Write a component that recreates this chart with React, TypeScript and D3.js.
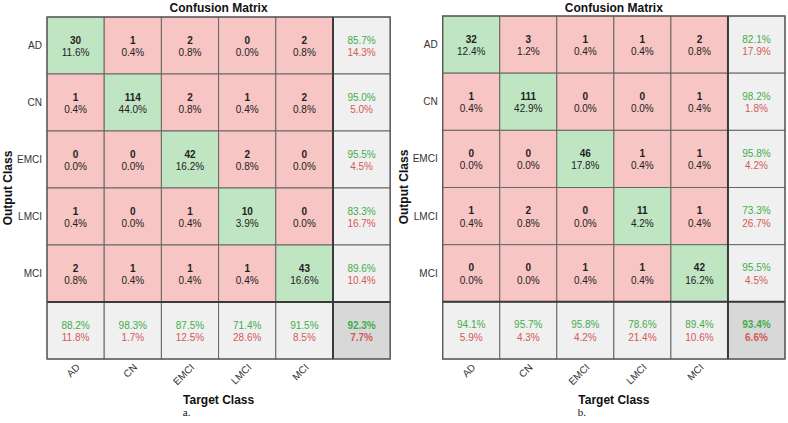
import React from "react";
import * as d3 from "d3";

const classes = ["AD", "CN", "EMCI", "LMCI", "MCI"];
const matrixA = [
  [30, 1, 2, 0, 2],
  [1, 114, 2, 1, 2],
  [0, 0, 42, 2, 0],
  [1, 0, 1, 10, 0],
  [2, 1, 1, 1, 43],
];
const matrixB = [
  [32, 3, 1, 1, 2],
  [1, 111, 0, 0, 1],
  [0, 0, 46, 1, 1],
  [1, 2, 0, 11, 1],
  [0, 0, 1, 1, 42],
];
const panelTags = ["a.", "b."];

const SANS = "'Liberation Sans', Arial, Helvetica, sans-serif";
const SERIF = "'Liberation Serif', 'Times New Roman', serif";
const GREEN_CELL = "#bfe5c3";
const RED_CELL = "#f7c5c3";
const GRAY_CELL = "#f0f0f0";
const CORNER_CELL = "#d8d8d8";
const GREEN_TEXT = "#3fae4a";
const RED_TEXT = "#d45a55";
const TEXT = "#222";

const fmt = (v: number) => (Math.round(v * 1000) / 10).toFixed(1) + "%";

function Panel({ m, x0, y0, w, h, tag }: { m: number[][]; x0: number; y0: number; w: number; h: number; tag: string }) {
  const n = classes.length;
  const xs = d3.scaleBand<number>().domain(d3.range(n + 1)).range([x0, x0 + (n + 1) * w]);
  const ys = d3.scaleBand<number>().domain(d3.range(n + 1)).range([y0, y0 + (n + 1) * h]);
  const total = d3.sum(m.flat());
  const diag = d3.sum(m.map((r, i) => r[i]));
  const rowSums = m.map((r) => d3.sum(r));
  const colSums = classes.map((_, j) => d3.sum(m.map((r) => r[j])));
  const cx = (i: number) => xs(i)! + w / 2;
  const cy = (i: number) => ys(i)! + h / 2;
  const right = x0 + (n + 1) * w;
  const bottom = y0 + (n + 1) * h;
  const midX = x0 + ((n + 1) * w) / 2;

  const statCell = (key: string, x: number, y: number, num: number, den: number, corner: boolean) => {
    const acc = den ? num / den : 0;
    return (
      <g key={key}>
        <rect x={x} y={y} width={w} height={h} fill={corner ? CORNER_CELL : GRAY_CELL} stroke="#666" strokeWidth={1} />
        <text x={x + w / 2} y={y + h / 2 - 2} textAnchor="middle" fontSize={10} fontWeight={corner ? "bold" : "normal"} fill={GREEN_TEXT}>
          {fmt(acc)}
        </text>
        <text x={x + w / 2} y={y + h / 2 + 10.5} textAnchor="middle" fontSize={10} fontWeight={corner ? "bold" : "normal"} fill={RED_TEXT}>
          {fmt(1 - acc)}
        </text>
      </g>
    );
  };

  return (
    <g fontFamily={SANS}>
      <text x={midX} y={12} textAnchor="middle" fontSize={12} fontWeight="bold" fill="#111">
        Confusion Matrix
      </text>
      {m.map((row, i) =>
        row.map((v, j) => (
          <g key={`c${i}-${j}`}>
            <rect x={xs(j)} y={ys(i)} width={w} height={h} fill={i === j ? GREEN_CELL : RED_CELL} stroke="#666" strokeWidth={1} />
            <text x={cx(j)} y={cy(i) - 2} textAnchor="middle" fontSize={10} fontWeight="bold" fill={TEXT}>
              {v}
            </text>
            <text x={cx(j)} y={cy(i) + 10.5} textAnchor="middle" fontSize={10} fill={TEXT}>
              {fmt(v / total)}
            </text>
          </g>
        ))
      )}
      {rowSums.map((s, i) => statCell(`r${i}`, xs(n)!, ys(i)!, m[i][i], s, false))}
      {colSums.map((s, j) => statCell(`k${j}`, xs(j)!, ys(n)!, m[j][j], s, false))}
      {statCell("corner", xs(n)!, ys(n)!, diag, total, true)}
      <line x1={xs(n)} x2={xs(n)} y1={y0} y2={bottom} stroke="#3a3a3a" strokeWidth={2} />
      <line x1={x0} x2={right} y1={ys(n)} y2={ys(n)} stroke="#3a3a3a" strokeWidth={2} />
      <rect x={x0} y={y0} width={right - x0} height={bottom - y0} fill="none" stroke="#555" strokeWidth={1.2} />
      {classes.map((c, i) => (
        <text key={`rl${i}`} x={x0 - 5} y={cy(i) + 3.5} textAnchor="end" fontSize={10} fill="#333">
          {c}
        </text>
      ))}
      {classes.map((c, j) => (
        <text key={`cl${j}`} transform={`translate(${cx(j) + 5},${bottom + 9}) rotate(-45)`} textAnchor="end" fontSize={10} fill="#333">
          {c}
        </text>
      ))}
      <text transform={`translate(${x0 - 35},${y0 + 171}) rotate(-90)`} textAnchor="middle" fontSize={12} fontWeight="bold" fill="#111">
        Output Class
      </text>
      <text x={midX} y={404} textAnchor="middle" fontSize={12} fontWeight="bold" fill="#111">
        Target Class
      </text>
      <text x={midX - 32} y={416} textAnchor="middle" fontSize={11} fontFamily={SERIF} fill="#111">
        {tag}
      </text>
    </g>
  );
}

export default function App() {
  return (
    <div style={{ position: "absolute", left: 0, top: 0 }}>
      <svg width={788} height={423} style={{ display: "block", background: "#fff" }}>
        <Panel m={matrixA} x0={47} y0={17} w={57.2} h={57} tag={panelTags[0]} />
        <Panel m={matrixB} x0={442.7} y0={16} w={57.05} h={57.17} tag={panelTags[1]} />
      </svg>
    </div>
  );
}
